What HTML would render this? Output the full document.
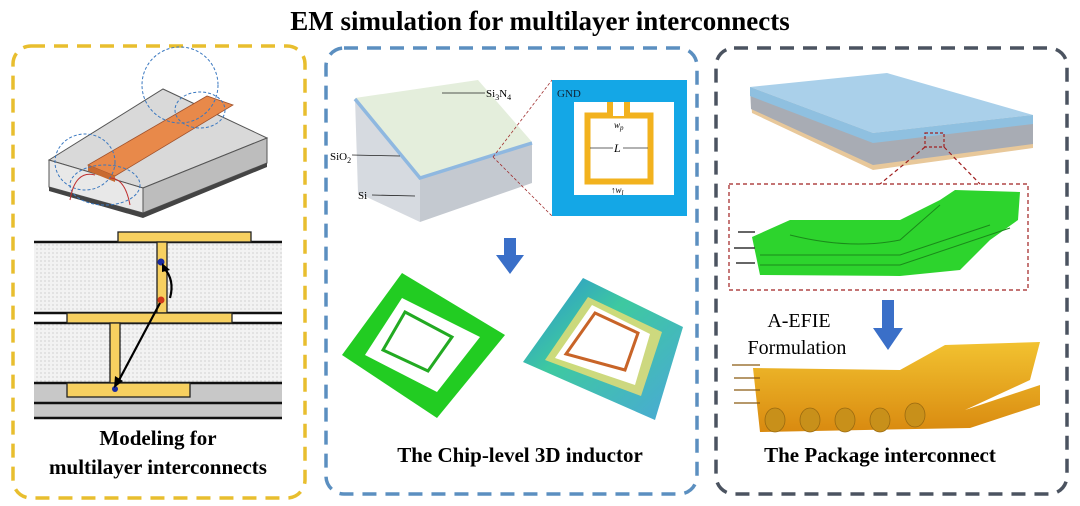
<!DOCTYPE html>
<html><head><meta charset="utf-8"><style>
html,body{margin:0;padding:0;background:#fff;}
svg{display:block;}
text{font-family:"Liberation Serif",serif;}
</style></head><body>
<svg width="1080" height="506" viewBox="0 0 1080 506" xmlns="http://www.w3.org/2000/svg">
<defs>
<pattern id="dots" width="4" height="4" patternUnits="userSpaceOnUse"><rect width="4" height="4" fill="#f2f2f2"/><circle cx="1" cy="1" r="0.6" fill="#bbb"/></pattern>
<linearGradient id="heat" x1="0" y1="0" x2="1" y2="1"><stop offset="0" stop-color="#2a8fd6"/><stop offset="0.4" stop-color="#3ec9a0"/><stop offset="1" stop-color="#4aa8d8"/></linearGradient>
<linearGradient id="gold" x1="0" y1="0" x2="0" y2="1"><stop offset="0" stop-color="#f2c230"/><stop offset="1" stop-color="#d98a10"/></linearGradient>
</defs>
<text x="540" y="30" text-anchor="middle" font-size="27" font-weight="bold">EM simulation for multilayer interconnects</text>

<rect x="13" y="46" width="292" height="452" rx="18" fill="none" stroke="#e8be2e" stroke-width="3.5" stroke-dasharray="14 9"/>
<rect x="326" y="48" width="371" height="446" rx="18" fill="none" stroke="#5b8fc0" stroke-width="3.5" stroke-dasharray="14 9"/>
<rect x="716" y="48" width="351" height="446" rx="18" fill="none" stroke="#4b5360" stroke-width="3.5" stroke-dasharray="14 9"/>

<!-- Panel1 microstrip -->
<polygon points="49,160 163,89 267,138 143,188" fill="#d9d9d9" stroke="#555" stroke-width="1"/>
<polygon points="49,160 143,188 143,213 49,187" fill="#e8e8e8" stroke="#555" stroke-width="1"/>
<polygon points="143,188 267,138 267,163 143,213" fill="#bdbdbd" stroke="#555" stroke-width="1"/>
<polygon points="49,187 143,213 267,163 267,167 143,218 49,191" fill="#444"/>
<polygon points="88,165 207,96 233,105 115,176" fill="#e8894a" stroke="#a0522d" stroke-width="0.8"/>
<polygon points="88,165 115,176 115,182 88,171" fill="#c86a30"/>
<g fill="none" stroke="#3a78c0" stroke-width="1" stroke-dasharray="3 2">
<ellipse cx="85" cy="162" rx="30" ry="28"/><ellipse cx="180" cy="85" rx="38" ry="38"/><ellipse cx="200" cy="110" rx="25" ry="18"/><ellipse cx="105" cy="185" rx="35" ry="20"/>
</g>
<g fill="none" stroke="#c03030" stroke-width="1"><path d="M70,200 Q75,170 95,175"/><path d="M130,205 Q125,178 110,178"/></g>
<rect x="34" y="242" width="248" height="71" fill="url(#dots)"/>
<rect x="34" y="323" width="248" height="60" fill="url(#dots)"/>
<rect x="34" y="383" width="248" height="35" fill="#c8c8c8"/>
<g stroke="#111" stroke-width="2.5"><line x1="34" y1="242" x2="282" y2="242"/><line x1="34" y1="313" x2="282" y2="313"/><line x1="34" y1="323" x2="282" y2="323"/><line x1="34" y1="383" x2="282" y2="383"/><line x1="34" y1="403" x2="282" y2="403"/><line x1="34" y1="418" x2="282" y2="418"/></g>
<g fill="#f7d060" stroke="#222" stroke-width="1.3">
<rect x="118" y="232" width="133" height="10"/><rect x="157" y="242" width="10" height="71"/><rect x="67" y="313" width="165" height="10"/><rect x="110" y="323" width="10" height="60"/><rect x="67" y="383" width="123" height="14"/></g>
<circle cx="161" cy="262" r="3.5" fill="#1a2aa0"/><circle cx="161" cy="300" r="3.5" fill="#d03a1a"/><circle cx="115" cy="389" r="3" fill="#1a2aa0"/>
<path d="M170,298 Q175,280 164,268" fill="none" stroke="#000" stroke-width="2.2"/><polygon points="162,263 170,270 162,272" fill="#000"/>
<line x1="160" y1="303" x2="118" y2="382" stroke="#000" stroke-width="2.2"/><polygon points="114,388 115,376 123,381" fill="#000"/>
<text x="158" y="445" text-anchor="middle" font-size="21" font-weight="bold">Modeling for</text>
<text x="158" y="474" text-anchor="middle" font-size="21" font-weight="bold">multilayer interconnects</text>

<!-- Panel2 chip -->
<polygon points="355,98 478,80 532,142 420,177" fill="#e4eedc"/>
<polygon points="355,98 420,177 420,222 358,193" fill="#d6dae0"/>
<polygon points="420,177 532,142 532,183 420,222" fill="#c4c9d0"/>
<polyline points="355,99 420,178 532,143" fill="none" stroke="#8fb8e0" stroke-width="3.5"/>
<g stroke="#222" stroke-width="0.8"><line x1="442" y1="93" x2="485" y2="93"/><line x1="352" y1="155" x2="400" y2="156"/><line x1="372" y1="195" x2="415" y2="196"/></g>
<text x="486" y="97" font-size="11">Si<tspan font-size="8" dy="3">3</tspan><tspan dy="-3">N</tspan><tspan font-size="8" dy="3">4</tspan></text>
<text x="330" y="160" font-size="11">SiO<tspan font-size="8" dy="3">2</tspan></text>
<text x="358" y="199" font-size="11">Si</text>
<g stroke="#a03030" stroke-width="0.8" stroke-dasharray="3 2"><line x1="493" y1="157" x2="552" y2="80"/><line x1="493" y1="157" x2="552" y2="216"/></g>
<rect x="552" y="80" width="135" height="136" fill="#14a7e6"/>
<rect x="574" y="102" width="100" height="93" fill="#fff"/>
<rect x="587.5" y="115.5" width="63" height="66" fill="none" stroke="#f2b21e" stroke-width="6"/>
<rect x="607" y="102" width="6" height="12" fill="#f2b21e"/><rect x="624" y="102" width="6" height="12" fill="#f2b21e"/><rect x="613" y="110" width="11" height="6" fill="#fff"/>
<text x="557" y="97" font-size="11" fill="#123">GND</text>
<text x="614" y="128" font-size="9" font-style="italic">w<tspan font-size="7" dy="2">p</tspan></text>
<line x1="590" y1="148" x2="648" y2="148" stroke="#333" stroke-width="0.7"/><rect x="613" y="141" width="10" height="12" fill="#fff"/>
<text x="614" y="152" font-size="12" font-style="italic">L</text>
<text x="611" y="193" font-size="9" font-style="italic">↑w<tspan font-size="7" dy="2">l</tspan></text>
<polygon points="504,238 516,238 516,255 524,255 510,274 496,255 504,255" fill="#3a6fc8"/>
<polygon points="402,273 505,335 437,418 342,355" fill="#22cc22"/>
<polygon points="402,298 480,337 437,392 365,355" fill="#fff"/>
<polygon points="405,312 452,337 428,371 383,350" fill="none" stroke="#22aa22" stroke-width="3"/>
<polygon points="583,278 683,327 655,420 523,362" fill="url(#heat)"/>
<polygon points="588,297 662,332 641,396 545,360" fill="#f0e070" opacity="0.8"/>
<polygon points="592,305 650,334 635,385 555,358" fill="#fff"/>
<polygon points="595,313 638,333 625,370 566,354" fill="none" stroke="#c86428" stroke-width="3"/>
<text x="520" y="462" text-anchor="middle" font-size="21" font-weight="bold">The Chip-level 3D inductor</text>

<!-- Panel3 board -->
<polygon points="750,87 873,133 1033,115 1033,148 873,170 752,113" fill="#e8c89a"/>
<polygon points="750,87 873,133 1033,115 1033,144 873,165 751,109" fill="#a8acb4"/>
<polygon points="750,87 873,133 1033,115 1033,124 873,143 750,96" fill="#8fc0e0"/>
<polygon points="750,87 887,73 1033,115 873,133" fill="#aad0ea"/>
<rect x="925" y="133" width="19" height="14" fill="none" stroke="#a02020" stroke-width="1.2" stroke-dasharray="3 2"/>
<g stroke="#a02020" stroke-width="1.2" stroke-dasharray="4 3"><line x1="925" y1="147" x2="880" y2="184"/><line x1="944" y1="147" x2="980" y2="184"/></g>
<rect x="729" y="184" width="299" height="106" fill="none" stroke="#a02020" stroke-width="1.2" stroke-dasharray="4 3"/>
<polygon points="752,237 790,220 900,220 940,200 955,190 1020,192 1018,220 990,240 960,270 900,276 760,275" fill="#2dd42d"/>
<g stroke="#1a8a1a" stroke-width="1" fill="none"><path d="M760,255 L900,255 L990,225"/><path d="M760,265 L900,265 L1010,228"/><path d="M790,235 Q850,250 900,240 L940,205"/></g>
<g stroke="#333" stroke-width="1.5"><line x1="738" y1="232" x2="755" y2="232"/><line x1="734" y1="248" x2="755" y2="248"/><line x1="736" y1="263" x2="755" y2="263"/></g>
<polygon points="882,300 894,300 894,328 903,328 888,350 873,328 882,328" fill="#3a6fc8"/>
<text x="799" y="327" text-anchor="middle" font-size="20">A-EFIE</text>
<text x="797" y="354" text-anchor="middle" font-size="20">Formulation</text>
<polygon points="753,368 900,370 945,345 1040,342 1030,380 965,410 1040,385 1040,405 970,428 760,432" fill="url(#gold)"/>
<g fill="#c8901a" stroke="#9a6a10" stroke-width="0.8"><ellipse cx="775" cy="420" rx="10" ry="12"/><ellipse cx="810" cy="420" rx="10" ry="12"/><ellipse cx="845" cy="420" rx="10" ry="12"/><ellipse cx="880" cy="420" rx="10" ry="12"/><ellipse cx="915" cy="415" rx="10" ry="12"/></g>
<g stroke="#8a5a10" stroke-width="1.2"><line x1="732" y1="365" x2="760" y2="365"/><line x1="734" y1="378" x2="760" y2="378"/><line x1="734" y1="390" x2="760" y2="390"/><line x1="734" y1="403" x2="760" y2="403"/></g>
<text x="880" y="462" text-anchor="middle" font-size="21" font-weight="bold">The Package interconnect</text>
</svg>
</body></html>
